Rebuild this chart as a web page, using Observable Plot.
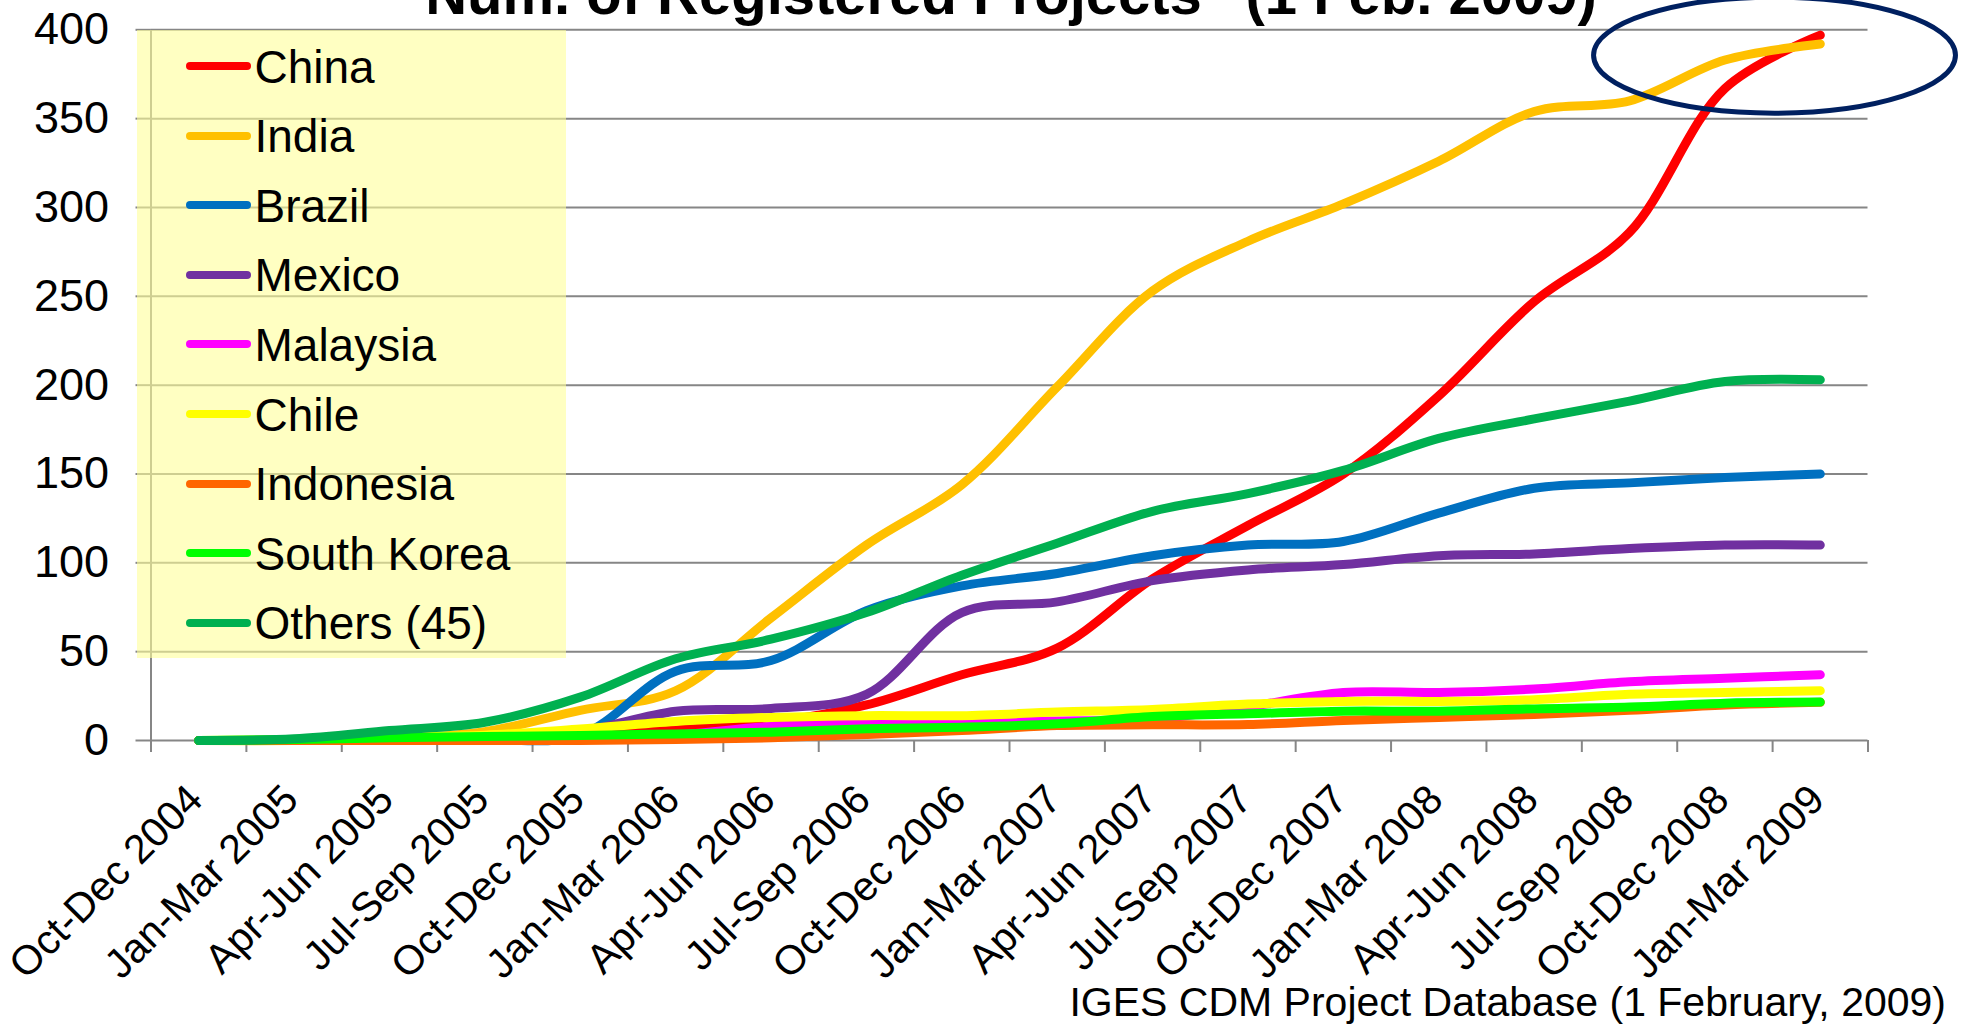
<!DOCTYPE html>
<html>
<head>
<meta charset="utf-8">
<script src="https://cdn.jsdelivr.net/npm/d3@7"></script>
<script src="https://cdn.jsdelivr.net/npm/@observablehq/plot@0.6"></script>
<style>
  html, body { margin: 0; padding: 0; background: #fff; overflow: hidden; }
  #wrap { position: relative; width: 1966px; height: 1027px; font-family: "Liberation Sans", Arial, sans-serif; }
  #chart { position: absolute; left: 0; top: 0; }
  #title { position: absolute; top: -35px; left: 1011px; transform: translateX(-50%); font-size: 58px; line-height: 58px; font-weight: bold; white-space: pre; color: #000; }
  #caption { position: absolute; top: 982px; right: 20px; font-size: 41px; line-height: 41px; white-space: pre; color: #000; }
  #legend { position: absolute; left: 137px; top: 29.5px; width: 429px; height: 628.5px; background: rgba(255,255,153,0.6); }
  .row { position: absolute; left: 0; width: 429px; height: 0; }
  .sw { position: absolute; left: 49px; width: 65px; height: 8px; border-radius: 4px; top: -4px; }
  .lab { position: absolute; left: 117.5px; top: -22.4px; font-size: 46px; line-height: 46px; white-space: pre; color: #000; }
</style>
</head>
<body>
<div id="wrap">
  <div id="chart"></div>
  <div id="legend"></div>
  <div id="title"></div>
  <div id="caption"></div>
</div>
<script>
// ---- data ----
const titleText = 'Num. of Registered Projects" (1 Feb. 2009)';
const captionText = "IGES CDM Project Database (1 February, 2009)";

const quarters = [
  "Oct-Dec 2004", "Jan-Mar 2005", "Apr-Jun 2005", "Jul-Sep 2005",
  "Oct-Dec 2005", "Jan-Mar 2006", "Apr-Jun 2006", "Jul-Sep 2006",
  "Oct-Dec 2006", "Jan-Mar 2007", "Apr-Jun 2007", "Jul-Sep 2007",
  "Oct-Dec 2007", "Jan-Mar 2008", "Apr-Jun 2008", "Jul-Sep 2008",
  "Oct-Dec 2008", "Jan-Mar 2009"
];

const countries = ["China", "India", "Brazil", "Mexico", "Malaysia", "Chile", "Indonesia", "South Korea", "Others (45)"];
const colors = ["#FF0000", "#FFC000", "#0070C0", "#7030A0", "#FF00FF", "#FFFF00", "#FF6600", "#00FF00", "#00B050"];

const china      = [0, 0, 0.5, 1, 3, 6, 10, 20, 37, 52, 91, 121, 150, 194, 247, 286, 367, 397];
const india      = [0, 0, 1, 5, 17, 28, 69, 110, 144, 199, 253, 281, 302, 326, 354, 360, 383, 392];
const brazil     = [0, 0, 0, 0.5, 3, 39, 45, 73, 87, 94, 104, 110, 112, 128, 142, 145, 148, 150];
const mexico     = [0, 0, 0, 1, 5, 16.5, 18, 26, 72, 78, 90, 96, 99, 104, 105, 108, 110, 110];
const malaysia   = [0, 0, 0, 0, 1, 3, 8, 10, 10.5, 11, 12, 19, 27, 27, 29, 33, 35, 37];
const chile      = [0, 0.5, 2, 3, 6.5, 10.7, 13, 14, 14, 16, 17.5, 20.5, 22, 22, 23, 26, 27, 28];
const indonesia  = [0, 0, 0, 0, 0, 0.5, 1.5, 3.4, 5.6, 8.4, 8.8, 9, 11.3, 13, 14.6, 17, 20, 21.5];
const southKorea = [0, 0.5, 1.5, 2.2, 2.8, 3.7, 4.7, 6.6, 7.5, 9.4, 13.5, 15, 16.5, 16.5, 17.8, 18.8, 21, 21.6];
const others     = [0, 1, 5.6, 10.3, 24.4, 46, 57, 72, 93, 111, 129, 139, 152, 170, 181, 191, 202, 203];

const yTicks = [0, 50, 100, 150, 200, 250, 300, 350, 400];

// highlighted region (ellipse annotation) in data coordinates
const highlight = [{q: 16.52, value: 385.7}];

// ---- build ----
const seriesValues = [china, india, brazil, mexico, malaysia, chile, indonesia, southKorea, others];
const table = countries.flatMap((c, k) => seriesValues[k].map((v, i) => ({country: c, q: i, value: v})));

const ellipseSymbol = {
  draw(ctx, size) {
    const r = Math.sqrt(size / Math.PI);
    const rx = 3.12 * r, ry = r, k = 0.5523;
    ctx.moveTo(rx, 0);
    ctx.bezierCurveTo(rx, ry * k, rx * k, ry, 0, ry);
    ctx.bezierCurveTo(-rx * k, ry, -rx, ry * k, -rx, 0);
    ctx.bezierCurveTo(-rx, -ry * k, -rx * k, -ry, 0, -ry);
    ctx.bezierCurveTo(rx * k, -ry, rx, -ry * k, rx, 0);
    ctx.closePath();
  }
};

const gray = "#868686";
const chart = Plot.plot({
  width: 1966,
  height: 1027,
  marginLeft: 150.5,
  marginRight: 98.5,
  marginTop: 29.3,
  marginBottom: 287,
  style: {fontFamily: '"Liberation Sans", Arial, sans-serif', fontSize: "45px", background: "transparent", color: "#000"},
  x: {type: "linear", domain: [-0.5, quarters.length - 0.5]},
  y: {type: "linear", domain: [0, 400]},
  color: {domain: countries, range: colors},
  marks: [
    Plot.gridY({ticks: yTicks.filter(d => d > 0), stroke: gray, strokeOpacity: 1, strokeWidth: 2}),
    Plot.ruleY([0], {stroke: gray, strokeWidth: 2}),
    Plot.ruleX([-0.5], {y1: 0, y2: 400, stroke: gray, strokeWidth: 2}),
    Plot.axisY({ticks: yTicks, tickSize: 15, tickPadding: 27, tickFormat: d => String(d), fontSize: 45, stroke: gray, strokeWidth: 2, strokeOpacity: 1, fill: "#000", label: null}),
    Plot.axisX({ticks: d3.range(-0.5, quarters.length, 1), tickSize: 12, tickFormat: () => "", stroke: gray, strokeWidth: 2, strokeOpacity: 1, label: null}),
    Plot.axisX({ticks: d3.range(quarters.length), tickSize: 0, tickPadding: 52, dx: -3, tickRotate: -45, tickFormat: i => quarters[i], fontSize: 41, fill: "#000", label: null}),
    Plot.line(table, {x: "q", y: "value", z: "country", stroke: "country", strokeWidth: 9, curve: "catmull-rom", strokeLinecap: "round", strokeLinejoin: "round"}),
    Plot.dot(highlight, {x: "q", y: "value", r: 58, symbol: ellipseSymbol, stroke: "#002060", strokeWidth: 5, fill: "none"})
  ]
});
document.getElementById("chart").appendChild(chart);

document.getElementById("title").textContent = titleText;
document.getElementById("caption").textContent = captionText;

const legend = document.getElementById("legend");
countries.forEach((c, k) => {
  const row = document.createElement("div");
  row.className = "row";
  row.style.top = (36.5 + 69.6 * k) + "px";
  const sw = document.createElement("div");
  sw.className = "sw";
  sw.style.background = colors[k];
  const lab = document.createElement("div");
  lab.className = "lab";
  lab.textContent = c;
  row.appendChild(sw);
  row.appendChild(lab);
  legend.appendChild(row);
});
</script>
</body>
</html>
